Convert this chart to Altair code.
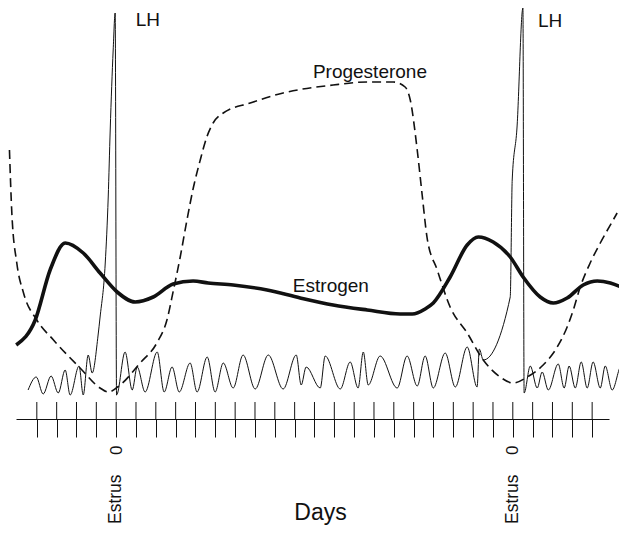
import altair as alt
import pandas as pd

FONT = "Liberation Sans"
INK = "#111111"

# ---- data (day of cycle, relative hormone level) ----
tick_days = list(range(-4, 25))
estrus_days = [0, 20]

estrogen_day = [-5.04, -4.08, -3.33, -2.57, -1.66, -0.81, 0.05, 0.96, 1.87, 2.87,
                3.88, 4.64, 5.90, 7.61, 9.28, 10.94, 12.66, 14.32, 14.93, 15.58,
                15.99, 16.84, 17.70, 18.26, 19.01, 19.87, 20.52, 21.38, 22.04, 22.74,
                23.55, 24.26, 24.92, 25.57]
estrogen_level = [74, 99, 149, 176, 166, 146, 127, 117, 122, 135,
                  138, 136, 134, 129, 121, 114, 109, 105, 105, 110,
                  116, 142, 174, 182, 177, 162, 142, 122, 116, 121,
                  134, 138, 136, 131]

progesterone_day = [-5.38, -5.26, -5.01, -4.67, -4.00, -3.16, -1.82, -0.81, -0.40, 0.20,
                    1.21, 2.05, 2.56, 2.89, 3.23, 3.57, 3.90, 4.24, 4.57, 4.89,
                    5.40, 6.76, 8.42, 10.94, 12.66, 13.97, 14.57, 14.83, 15.18, 15.43,
                    15.68, 16.19, 16.84, 17.70, 18.51, 19.36, 20.02, 20.73, 21.53, 22.24,
                    22.74, 23.05, 23.40, 23.90, 24.41, 25.06, 25.26]
progesterone_level = [269, 206, 156, 126, 99, 79, 51, 31, 27, 34,
                      56, 76, 99, 129, 162, 199, 232, 259, 282, 296,
                      306, 316, 326, 334, 337, 337, 332, 319, 269, 224,
                      181, 149, 112, 86, 59, 42, 36, 42, 54, 72,
                      92, 109, 132, 156, 176, 199, 206]

lh_day = [-4.44, -4.03, -3.68, -3.28, -2.92, -2.57, -2.32, -1.87, -1.66, -1.41,
          -1.21, -0.91, -0.81, -0.55, -0.40, -0.30, -0.15, -0.05, 0.02, 0.45,
          0.81, 1.06, 1.46, 2.07, 2.42, 2.82, 3.18, 3.73, 4.08, 4.59,
          4.99, 5.40, 5.90, 6.40, 7.01, 7.67, 8.42, 9.08, 9.33, 9.58,
          10.29, 10.54, 11.30, 11.80, 12.20, 12.46, 12.71, 13.31, 14.17, 14.67,
          15.18, 15.58, 15.99, 16.59, 17.10, 17.70, 18.20, 18.31, 18.51, 19.87,
          19.97, 20.21, 20.51, 20.57, 20.88, 21.23, 21.48, 21.79, 22.29, 22.59,
          22.84, 23.15, 23.45, 23.75, 24.05, 24.41, 24.66, 25.01, 25.47, 25.77]
lh_level = [29, 42, 25, 43, 26, 49, 24, 53, 24, 64,
            46, 84, 102, 156, 222, 289, 369, 406, 24, 67,
            29, 52, 27, 67, 27, 52, 27, 56, 27, 62,
            27, 56, 31, 64, 30, 64, 30, 64, 34, 52,
            31, 63, 30, 57, 31, 67, 34, 63, 31, 63,
            33, 63, 31, 66, 32, 72, 32, 70, 59, 122,
            239, 291, 411, 26, 53, 31, 47, 29, 55, 31,
            53, 31, 57, 31, 57, 31, 53, 29, 53, 39]

label_text = ["LH", "LH", "Progesterone", "Estrogen"]
label_day = [0.99, 21.27, 9.92, 8.91]
label_level = [393, 392, 341, 127]

# ---- tables ----
estrogen = pd.DataFrame({"day": estrogen_day, "level": estrogen_level})
progesterone = pd.DataFrame({"day": progesterone_day, "level": progesterone_level})
lh = pd.DataFrame({"day": lh_day, "level": lh_level})
ticks = pd.DataFrame({"day": tick_days})
estrus = pd.DataFrame({"day": estrus_days, "label": ["Estrus"] * len(estrus_days)})
labels = pd.DataFrame({"day": label_day, "level": label_level, "label": label_text})

x_scale = alt.Scale(domain=[-5.05, 24.85], nice=False, zero=False)
y_scale = alt.Scale(domain=[0, 411], nice=False, zero=False)

x_axis = alt.Axis(
    values=tick_days,
    grid=False,
    domainColor=INK, domainWidth=1,
    tickColor=INK, tickWidth=1, tickSize=18,
    labelExpr="(datum.value == 0 || datum.value == 20) ? '0' : ''",
    labelAngle=270, labelPadding=8, labelOverlap=False,
    labelFont=FONT, labelFontSize=17, labelColor=INK,
    title="Days", titleFont=FONT, titleFontSize=23, titleFontWeight="normal",
    titleColor=INK, titleX=304, titleY=100, titleAlign="center",
    titleBaseline="alphabetic",
)

X = alt.X("day:Q", scale=x_scale, axis=x_axis)
Y = alt.Y("level:Q", scale=y_scale, axis=None)

prog_layer = alt.Chart(progesterone).mark_line(
    color=INK, strokeWidth=1.6, strokeDash=[9, 5], interpolate="monotone", clip=False
).encode(x=X, y=Y)

lh_layer = alt.Chart(lh).mark_line(
    color=INK, strokeWidth=1, interpolate="monotone", clip=False
).encode(x=X, y=Y)

est_layer = alt.Chart(estrogen).mark_line(
    color=INK, strokeWidth=3.6, interpolate="monotone", clip=False
).encode(x=X, y=Y)

tick_up = alt.Chart(ticks).mark_rule(color=INK, strokeWidth=1, clip=False).encode(
    x=X, y=alt.value(394), y2=alt.value(411)
)

estrus_layer = alt.Chart(estrus).mark_text(
    font=FONT, fontSize=17.5, color=INK, angle=270, align="left", baseline="middle", clip=False
).encode(x=X, y=alt.value(516), text="label:N")

label_layer = alt.Chart(labels).mark_text(
    font=FONT, fontSize=19, color=INK, align="left", baseline="alphabetic", clip=False
).encode(x=X, y=Y, text="label:N")

chart = alt.layer(
    prog_layer, lh_layer, est_layer, tick_up, estrus_layer, label_layer
).properties(
    width=593,
    height=411,
    autosize=alt.AutoSizeParams(type="none"),
    padding={"left": 8, "top": 0, "right": 10, "bottom": 106},
    background="white",
).configure_view(stroke=None)

chart.save("out.html", embed_options={"renderer": "svg", "actions": False})
